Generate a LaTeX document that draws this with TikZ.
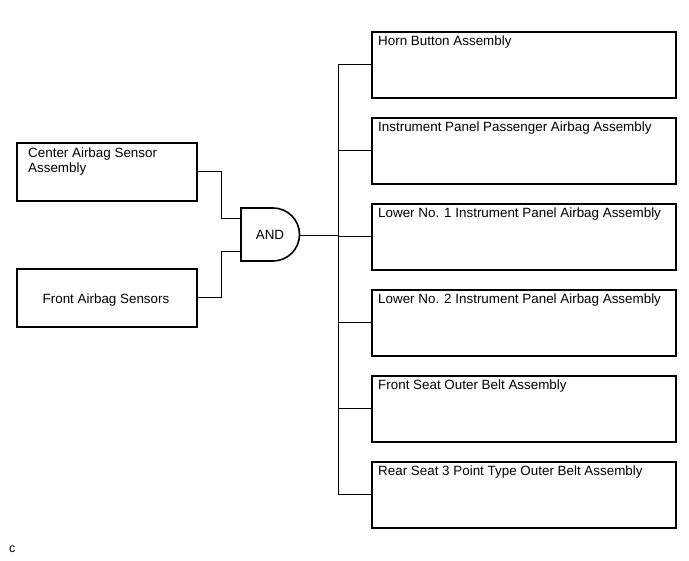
\documentclass[tikz,border=0pt]{standalone}
\usepackage{fontspec}
\setmainfont{Liberation Sans}
\begin{document}
\begin{tikzpicture}[x=1pt,y=-1pt,
  box/.style={draw, line width=1.6pt, rectangle, inner sep=0pt, minimum width=#1, minimum height=66pt, anchor=north west},
  box/.default=304pt,
  lbox/.style={draw, line width=1.6pt, rectangle, inner sep=0pt, minimum width=180pt, minimum height=58pt, anchor=north west},
  txt/.style={inner sep=0pt, anchor=base west, font=\fontsize{13.4}{15}\selectfont},
  wire/.style={line width=0.9pt},
  gateline/.style={line width=1.6pt, line join=miter}
]
\useasboundingbox (0,0) rectangle (689,561);

% left boxes
\node[lbox] (cab) at (16,142) {};
\node[txt, align=left] (cabt) at (28,173) {Center Airbag Sensor\\Assembly};
\node[lbox] (fab) at (16,268) {};
\node[txt, anchor=base] (fabt) at (106,304) {Front Airbag Sensors};

% AND gate
\draw[gateline] (241,208) -- (273,208) arc[start angle=-90, end angle=90, radius=26.5] -- (241,261) -- cycle;
\node[txt, anchor=base] (and) at (270,240) {AND};
\coordinate (gin1) at (241,218);
\coordinate (gin2) at (241,251);
\coordinate (gout) at (299.5,235);
\coordinate (tr) at (338,235);

% right boxes
\foreach \i/\t in {1/Horn Button Assembly,
                    2/Instrument Panel Passenger Airbag Assembly,
                    3/Lower No. 1 Instrument Panel Airbag Assembly,
                    4/Lower No. 2 Instrument Panel Airbag Assembly,
                    5/Front Seat Outer Belt Assembly,
                    6/Rear Seat 3 Point Type Outer Belt Assembly}{
  \node[box] (b\i) at (371,{31+86*(\i-1)}) {};
  \node[txt] (t\i) at (378,{46+86*(\i-1)}) {\t};
}

% connectors
\draw[wire] (cab.east) -- ++(24,0) |- (gin1);
\draw[wire] (fab.east) -- ++(24,0) |- (gin2);
\draw[wire] (gout) -- (tr);
\draw[wire] (b1.west) -- ++(-33,0) |- (b6.west);
\foreach \i in {2,3,4,5}{
  \draw[wire] (b\i.west) -- ++(-33,0);
}

\node[inner sep=0pt, anchor=base west, font=\fontsize{12.5}{14}\selectfont] (c) at (9,553) {c};
\end{tikzpicture}
\end{document}
